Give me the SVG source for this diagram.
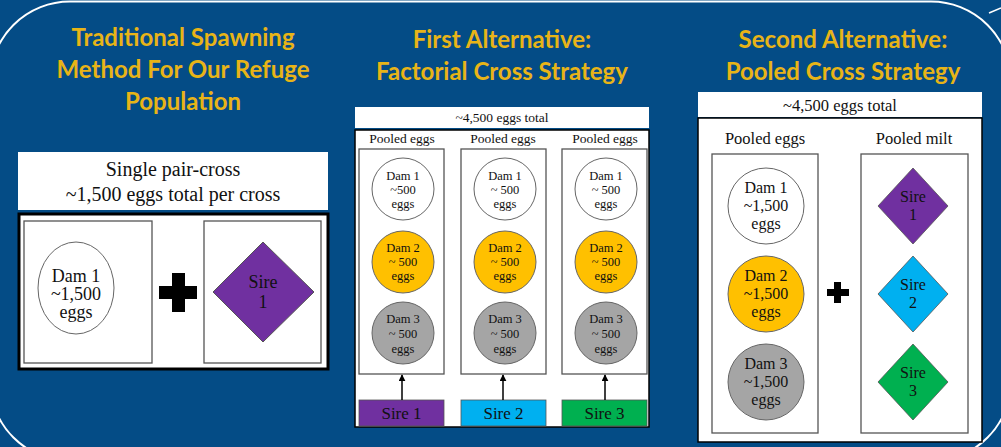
<svg xmlns="http://www.w3.org/2000/svg" width="1001" height="447" viewBox="0 0 1001 447">
<style>
.title{font-family:Lato,"Open Sans",sans-serif;font-weight:bold;font-size:24px;fill:#e8b417;text-anchor:middle}
.t{font-family:"Liberation Serif","Times New Roman",serif;fill:#111;text-anchor:middle}
.box{fill:#fff;stroke:#555;stroke-width:1.3}
.circ{stroke:#666;stroke-width:1}
.blk{fill:#fff;stroke:#000}
</style>
<defs>
<marker id="ah" viewBox="0 0 10 10" refX="9" refY="5" markerWidth="7" markerHeight="7" orient="auto" markerUnits="userSpaceOnUse">
<path d="M0,0 L10,5 L0,10 z" fill="#000"/>
</marker>
</defs>
<rect x="0" y="0" width="1001" height="447" fill="#044c86"/>
<rect x="-10" y="1.5" width="1021" height="459.5" rx="80" ry="80" fill="none" stroke="#fff" stroke-width="2"/>
<line x1="989" y1="13" x2="1001" y2="8" stroke="#fff" stroke-width="1.5"/>

<g id="titles">
<text class="title" x="183" y="46">Traditional Spawning</text>
<text class="title" x="183" y="78">Method For Our Refuge</text>
<text class="title" x="183" y="110">Population</text>
<text class="title" x="502" y="48">First Alternative:</text>
<text class="title" x="502" y="80">Factorial Cross Strategy</text>
<text class="title" x="843" y="48">Second Alternative:</text>
<text class="title" x="843" y="80">Pooled Cross Strategy</text>
</g>

<!-- Panel 1 -->
<g id="p1-header">
<rect x="18" y="152" width="310" height="58" fill="#fff"/>
<text class="t" x="173" y="176" font-size="20">Single pair-cross</text>
<text class="t" x="173" y="201" font-size="20">~1,500 eggs total per cross</text>
</g>
<g id="p1-frame">
<rect class="blk" x="19" y="214" width="309" height="155" stroke-width="3"/>
<rect class="box" x="24" y="221" width="128" height="142"/>
<rect class="box" x="204" y="221" width="117" height="142"/>
</g>
<g id="p1-dam1">
<ellipse class="circ" cx="76" cy="288" rx="38" ry="46" fill="#fff"/>
<text class="t" x="76" y="282" font-size="18">Dam 1</text>
<text class="t" x="76" y="300" font-size="18">~1,500</text>
<text class="t" x="76" y="318" font-size="18">eggs</text>
</g>
<g id="p1-plus">
<path d="M172,273 h13 v13 h12 v13 h-12 v13 h-13 v-13 h-13 v-13 h13 z" fill="#000"/>
</g>
<g id="p1-sire1">
<polygon points="263,242 314,292 263,342 213,292" fill="#7030a0" stroke="#555" stroke-width="1"/>
<text class="t" x="263" y="288" font-size="18">Sire</text>
<text class="t" x="263" y="308" font-size="18">1</text>
</g>

<!-- Panel 2 -->
<g id="p2-header">
<rect x="355" y="107" width="294" height="21" fill="#fff"/>
<text class="t" x="502" y="122" font-size="13.5">~4,500 eggs total</text>
</g>
<g id="p2-frame">
<rect class="blk" x="355" y="130" width="294" height="297" stroke-width="1.5"/>
<text class="t" x="402" y="143" font-size="13.5">Pooled eggs</text>
<text class="t" x="503" y="143" font-size="13.5">Pooled eggs</text>
<text class="t" x="605" y="143" font-size="13.5">Pooled eggs</text>
<rect class="box" x="359" y="149" width="85" height="225"/>
<rect class="box" x="461" y="149" width="85" height="225"/>
<rect class="box" x="562" y="149" width="85" height="225"/>
</g>
<g id="p2-c1">
<circle class="circ" cx="403" cy="189" r="31" fill="#fff"/>
<text class="t" x="403" y="180" font-size="12.5">Dam 1</text>
<text class="t" x="403" y="194" font-size="12.5">~500</text>
<text class="t" x="403" y="208" font-size="12.5">eggs</text>
<circle class="circ" cx="403" cy="262" r="31" fill="#ffc000"/>
<text class="t" x="403" y="252" font-size="12.5">Dam 2</text>
<text class="t" x="403" y="266" font-size="12.5">~ 500</text>
<text class="t" x="403" y="280" font-size="12.5">eggs</text>
<circle class="circ" cx="403" cy="333" r="31" fill="#a5a5a5"/>
<text class="t" x="403" y="323" font-size="12.5">Dam 3</text>
<text class="t" x="403" y="338" font-size="12.5">~ 500</text>
<text class="t" x="403" y="353" font-size="12.5">eggs</text>
</g>
<g id="p2-c2">
<circle class="circ" cx="505" cy="189" r="31" fill="#fff"/>
<text class="t" x="505" y="180" font-size="12.5">Dam 1</text>
<text class="t" x="505" y="194" font-size="12.5">~ 500</text>
<text class="t" x="505" y="208" font-size="12.5">eggs</text>
<circle class="circ" cx="505" cy="262" r="31" fill="#ffc000"/>
<text class="t" x="505" y="252" font-size="12.5">Dam 2</text>
<text class="t" x="505" y="266" font-size="12.5">~ 500</text>
<text class="t" x="505" y="280" font-size="12.5">eggs</text>
<circle class="circ" cx="505" cy="333" r="31" fill="#a5a5a5"/>
<text class="t" x="505" y="323" font-size="12.5">Dam 3</text>
<text class="t" x="505" y="338" font-size="12.5">~ 500</text>
<text class="t" x="505" y="353" font-size="12.5">eggs</text>
</g>
<g id="p2-c3">
<circle class="circ" cx="606" cy="189" r="31" fill="#fff"/>
<text class="t" x="606" y="180" font-size="12.5">Dam 1</text>
<text class="t" x="606" y="194" font-size="12.5">~ 500</text>
<text class="t" x="606" y="208" font-size="12.5">eggs</text>
<circle class="circ" cx="606" cy="262" r="31" fill="#ffc000"/>
<text class="t" x="606" y="252" font-size="12.5">Dam 2</text>
<text class="t" x="606" y="266" font-size="12.5">~ 500</text>
<text class="t" x="606" y="280" font-size="12.5">eggs</text>
<circle class="circ" cx="606" cy="333" r="31" fill="#a5a5a5"/>
<text class="t" x="606" y="323" font-size="12.5">Dam 3</text>
<text class="t" x="606" y="338" font-size="12.5">~ 500</text>
<text class="t" x="606" y="353" font-size="12.5">eggs</text>
</g>
<g id="p2-sire1">
<rect x="359" y="400" width="85" height="26" fill="#7030a0" stroke="#555" stroke-width="0.8"/>
<text class="t" x="401.5" y="419" font-size="17">Sire 1</text>
</g>
<g id="p2-sire2">
<rect x="461" y="400" width="85" height="26" fill="#00b0f0" stroke="#555" stroke-width="0.8"/>
<text class="t" x="503.5" y="419" font-size="17">Sire 2</text>
</g>
<g id="p2-sire3">
<rect x="562" y="400" width="85" height="26" fill="#00b050" stroke="#555" stroke-width="0.8"/>
<text class="t" x="604.5" y="419" font-size="17">Sire 3</text>
</g>
<g id="connectors" stroke="#000" stroke-width="1.5">
<line x1="402" y1="400" x2="402" y2="375" marker-end="url(#ah)"/>
<line x1="503" y1="400" x2="503" y2="375" marker-end="url(#ah)"/>
<line x1="605" y1="400" x2="605" y2="375" marker-end="url(#ah)"/>
</g>

<!-- Panel 3 -->
<g id="p3-header">
<rect x="698" y="92" width="284" height="25" fill="#fff"/>
<text class="t" x="840" y="111" font-size="16.5">~4,500 eggs total</text>
</g>
<g id="p3-frame">
<rect class="blk" x="698" y="118" width="284" height="324" stroke-width="1.5"/>
<text class="t" x="765" y="144" font-size="16.5">Pooled eggs</text>
<text class="t" x="914" y="144" font-size="16.5">Pooled milt</text>
<rect class="box" x="712" y="154" width="106" height="279"/>
<rect class="box" x="861" y="154" width="107" height="279"/>
</g>
<g id="p3-dam1">
<circle class="circ" cx="766" cy="206" r="38" fill="#fff"/>
<text class="t" x="766" y="193" font-size="16">Dam 1</text>
<text class="t" x="766" y="211" font-size="16">~1,500</text>
<text class="t" x="766" y="229" font-size="16">eggs</text>
</g>
<g id="p3-dam2">
<circle class="circ" cx="766" cy="294" r="38" fill="#ffc000"/>
<text class="t" x="766" y="281" font-size="16">Dam 2</text>
<text class="t" x="766" y="299" font-size="16">~1,500</text>
<text class="t" x="766" y="317" font-size="16">eggs</text>
</g>
<g id="p3-dam3">
<circle class="circ" cx="766" cy="382" r="38" fill="#a5a5a5"/>
<text class="t" x="766" y="369" font-size="16">Dam 3</text>
<text class="t" x="766" y="387" font-size="16">~1,500</text>
<text class="t" x="766" y="405" font-size="16">eggs</text>
</g>
<g id="p3-plus">
<path d="M834,282 h7 v7 h8 v7 h-8 v7 h-7 v-7 h-7 v-7 h7 z" fill="#000"/>
</g>
<g id="p3-sire1">
<polygon points="913,168 948,206 913,244 878,206" fill="#7030a0" stroke="#555" stroke-width="0.8"/>
<text class="t" x="913" y="202" font-size="16">Sire</text>
<text class="t" x="913" y="220" font-size="16">1</text>
</g>
<g id="p3-sire2">
<polygon points="913,256 948,294 913,332 878,294" fill="#00b0f0" stroke="#555" stroke-width="0.8"/>
<text class="t" x="913" y="290" font-size="16">Sire</text>
<text class="t" x="913" y="308" font-size="16">2</text>
</g>
<g id="p3-sire3">
<polygon points="913,344 948,382 913,420 878,382" fill="#00b050" stroke="#555" stroke-width="0.8"/>
<text class="t" x="913" y="378" font-size="16">Sire</text>
<text class="t" x="913" y="396" font-size="16">3</text>
</g>
</svg>
